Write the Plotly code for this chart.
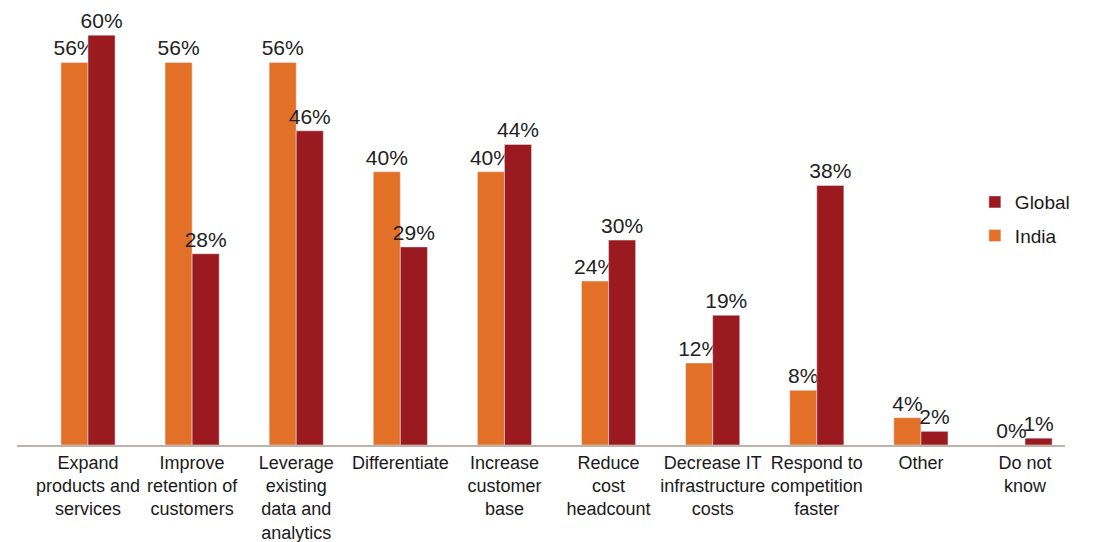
import plotly.graph_objects as go

categories = [
    "Expand<br>products and<br>services",
    "Improve<br>retention of<br>customers",
    "Leverage<br>existing<br>data and<br>analytics",
    "Differentiate",
    "Increase<br>customer<br>base",
    "Reduce<br>cost<br>headcount",
    "Decrease IT<br>infrastructure<br>costs",
    "Respond to<br>competition<br>faster",
    "Other",
    "Do not<br>know",
]
india = [56, 56, 56, 40, 40, 24, 12, 8, 4, 0]
global_ = [60, 28, 46, 29, 44, 30, 19, 38, 2, 1]

ORANGE = "#E37027"
RED = "#9B1A20"
FONT = "Liberation Sans, Arial, Helvetica, sans-serif"

fig = go.Figure()
fig.add_trace(go.Bar(
    name="India", x=categories, y=india, marker_color=ORANGE,
    legendgroup="india", legendrank=2,
    text=[f"{v}%" for v in india], textposition="outside", cliponaxis=False,
    constraintext="none",
    textfont=dict(size=21, color="#222222", family=FONT),
))
fig.add_trace(go.Bar(
    name="Global", x=categories, y=global_, marker_color=RED,
    legendgroup="global", legendrank=1,
    text=[f"{v}%" for v in global_], textposition="outside", cliponaxis=False,
    constraintext="none",
    textfont=dict(size=21, color="#222222", family=FONT),
))

fig.update_layout(
    width=1099, height=542,
    margin=dict(l=17, r=34, t=1, b=97, autoexpand=False),
    barmode="group", bargap=0.48, bargroupgap=0,
    plot_bgcolor="white", paper_bgcolor="white",
    font=dict(family=FONT, size=18, color="#1a1a1a"),
    legend=dict(
        x=0.914, y=0.59, xanchor="left", yanchor="top",
        traceorder="grouped", tracegroupgap=6,
        font=dict(size=19, color="#1a1a1a"),
        bgcolor="rgba(0,0,0,0)", itemwidth=30,
    ),
)
fig.update_xaxes(
    range=[-0.682, 9.384], showline=True, linecolor="#BDB3A9", linewidth=2,
    ticks="", tickangle=0, automargin=False,
    tickfont=dict(size=18, family=FONT, color="#1a1a1a"),
    showgrid=False,
)
fig.update_yaxes(range=[0, 65], visible=False, showgrid=False)

fig.write_html("out.html")
